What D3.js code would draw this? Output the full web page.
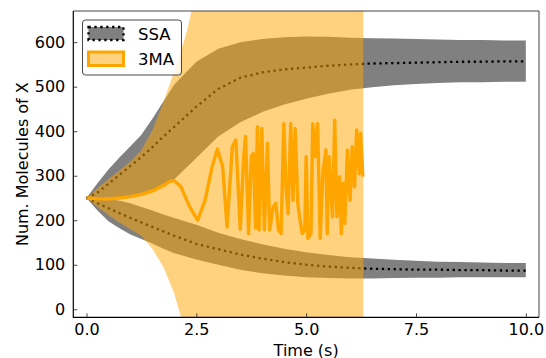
<!DOCTYPE html>
<html><head><meta charset="utf-8">
<script src="https://cdn.jsdelivr.net/npm/d3@7"></script>
<style>body{margin:0;background:#fff}svg{display:block}text{font-family:"DejaVu Sans",sans-serif}</style>
</head><body><svg id="c" width="546" height="358"></svg>
<script>
// SSA statistics (two modes)
const ssaTime   = [0,0.25,0.5,0.75,1,1.25,1.5,1.75,2,2.5,3,3.5,4,4.5,5,5.5,6,6.5,7,7.5,8,8.5,9,9.5,10];
const ssaHiMean = [250,262,282,302,322,342,364,388,410,455,495,520,532,539,543,547,550,552,553,554,555,556,556,557,557];
const ssaHiTop  = [250,283,314,341,366,392,428,467,505,556,585,600,607,611,613,612,610,609,608,607,606,605,605,604,604];
const ssaHiBot  = [250,248,247,250,255,260,268,278,292,340,388,420,443,460,473,484,493,499,503,506,508,510,510,511,511];
const ssaLoMean = [250,238,227,216,205,195,185,175,165,147,135,123,114,106,100,96,93,91,90,89,89,88,88,87,87];
const ssaLoTop  = [250,250,248,244,238,230,222,213,205,190,172,158,146,136,128,122,117,114,111,109,107,106,105,104,104];
const ssaLoBot  = [250,222,198,182,168,158,148,136,126,112,100,89,81,76,72,70,69,69,70,71,71,72,72,72,72];

// 3MA mean +/- std band
const maBandTime = [0,0.25,0.5,0.75,1,1.25,1.5,1.75,2,2.15,2.25,2.31,2.5,3,3.5,4,5,6,6.3];
const maBandTop  = [250,272,292,312,332,358,402,465,535,582,612,634,720,1100,1600,2200,3200,4500,5000];
const maBandBot  = [250,230,212,195,180,165,136,95,35,-17,-70,-100,-200,-600,-1100,-1700,-2700,-4000,-4500];

// 3MA mean trajectory
const maTime = [0,0.25,0.5,0.75,1,1.25,1.5,1.75,1.91,2.0,2.15,2.35,2.53,2.70,2.86,2.98,3.10,3.20,3.26,3.32,3.40,3.50,3.58,3.62,3.69,3.75,3.80,3.85,3.89,3.93,3.99,4.05,4.12,4.17,4.25,4.31,4.37,4.43,4.49,4.54,4.59,4.65,4.70,4.75,4.81,4.85,4.91,4.97,5.00,5.04,5.11,5.15,5.21,5.26,5.32,5.38,5.45,5.48,5.52,5.60,5.65,5.70,5.76,5.80,5.84,5.88,5.94,6.00,6.05,6.10,6.15,6.21,6.24,6.29];
const maVal  = [250,248,248,250,253,258,266,278,288,289,275,230,200,245,320,360,320,185,275,365,380,180,343,388,170,343,350,182,410,178,406,178,373,178,230,238,178,170,417,275,215,417,245,406,238,208,170,178,343,159,170,417,343,417,159,305,358,170,343,208,425,208,298,170,283,193,358,245,365,275,403,305,395,298];

const xTicks = [0,2.5,5,7.5,10];
const xTickLabels = ["0.0","2.5","5.0","7.5","10.0"];
const yTicks = [0,100,200,300,400,500,600];
const yTickLabels = ["0","100","200","300","400","500","600"];
const legendLabels = ["SSA","3MA"];

const svg = d3.select("#c");
const L=73.3, R=539, T=11, B=317.3;
const x = d3.scaleLinear().domain([-0.3,10.3]).range([L,R]);
const y = d3.scaleLinear().domain([-18,670]).range([B,T]);

svg.append("defs").append("clipPath").attr("id","clip")
  .append("rect").attr("x",L).attr("y",T).attr("width",R-L).attr("height",B-T);
const g = svg.append("g").attr("clip-path","url(#clip)");

const area = (ts,top,bot)=>d3.area().x((d,i)=>x(ts[i])).y0((d,i)=>y(bot[i])).y1((d,i)=>y(top[i]))(ts);
const line = (ts,vs)=>d3.line().x((d,i)=>x(ts[i])).y((d,i)=>y(vs[i]))(ts);

g.append("path").attr("d",area(ssaTime,ssaHiTop,ssaHiBot)).attr("fill","#808080");
g.append("path").attr("d",area(ssaTime,ssaLoTop,ssaLoBot)).attr("fill","#808080");
[ssaHiMean,ssaLoMean].forEach(m=>{
  g.append("path").attr("d",line(ssaTime,m)).attr("fill","none").attr("stroke","#000")
   .attr("stroke-width",2.3).attr("stroke-dasharray","2.3,3.6");
});
g.append("path").attr("d",area(maBandTime,maBandTop,maBandBot)).attr("fill","orange").attr("fill-opacity",0.5);
g.append("path").attr("d",line(maTime,maVal)).attr("fill","none").attr("stroke","orange")
  .attr("stroke-width",3.4).attr("stroke-linejoin","round").attr("stroke-linecap","butt");

// spines
svg.append("line").attr("x1",L).attr("x2",R).attr("y1",T).attr("y2",T).attr("stroke","#444").attr("stroke-width",1);
svg.append("line").attr("x1",R).attr("x2",R).attr("y1",T).attr("y2",B).attr("stroke","#444").attr("stroke-width",1);
svg.append("line").attr("x1",L).attr("x2",L).attr("y1",T).attr("y2",B+0.5).attr("stroke","#000").attr("stroke-width",1.2);
svg.append("line").attr("x1",L).attr("x2",R).attr("y1",B).attr("y2",B).attr("stroke","#000").attr("stroke-width",1.2);

// axes with inward ticks
const xAxis = d3.axisBottom(x).tickValues(xTicks).tickFormat((d,i)=>xTickLabels[i]).tickSizeInner(-4).tickSizeOuter(0).tickPadding(6);
const ax = svg.append("g").attr("transform",`translate(0,${B})`).call(xAxis);
const yAxis = d3.axisLeft(y).tickValues(yTicks).tickFormat((d,i)=>yTickLabels[i]).tickSizeInner(-4).tickSizeOuter(0).tickPadding(8);
const ay = svg.append("g").attr("transform",`translate(${L},0)`).call(yAxis);
[ax,ay].forEach(a=>{
  a.select(".domain").remove();
  a.selectAll(".tick line").attr("stroke","#333").attr("stroke-width",0.9);
  a.selectAll(".tick text").attr("font-size",16).attr("fill","#000").attr("font-family","DejaVu Sans");
});

svg.append("text").attr("x",(L+R)/2).attr("y",355.5).attr("text-anchor","middle").attr("font-size",16).text("Time (s)");
svg.append("text").attr("transform",`translate(27.5,${(T+B)/2}) rotate(-90)`).attr("text-anchor","middle").attr("font-size",16).text("Num. Molecules of X");

// legend
const lg = svg.append("g");
lg.append("rect").attr("x",82.5).attr("y",20).attr("width",99).attr("height",55).attr("rx",3)
  .attr("fill","#fff").attr("fill-opacity",0.8).attr("stroke","#333").attr("stroke-width",0.9);
lg.append("rect").attr("x",88.5).attr("y",27).attr("width",35).attr("height",13)
  .attr("fill","#808080").attr("stroke","#000").attr("stroke-width",2.3).attr("stroke-dasharray","2.3,3.6");
lg.append("rect").attr("x",88.5).attr("y",52).attr("width",35).attr("height",13.5)
  .attr("fill","orange").attr("fill-opacity",0.5).attr("stroke","orange").attr("stroke-width",3);
lg.selectAll("text.l").data(legendLabels).join("text").attr("class","l")
  .attr("x",138).attr("y",(d,i)=>39.5+i*25.5).attr("font-size",16.5).text(d=>d);
</script></body></html>
